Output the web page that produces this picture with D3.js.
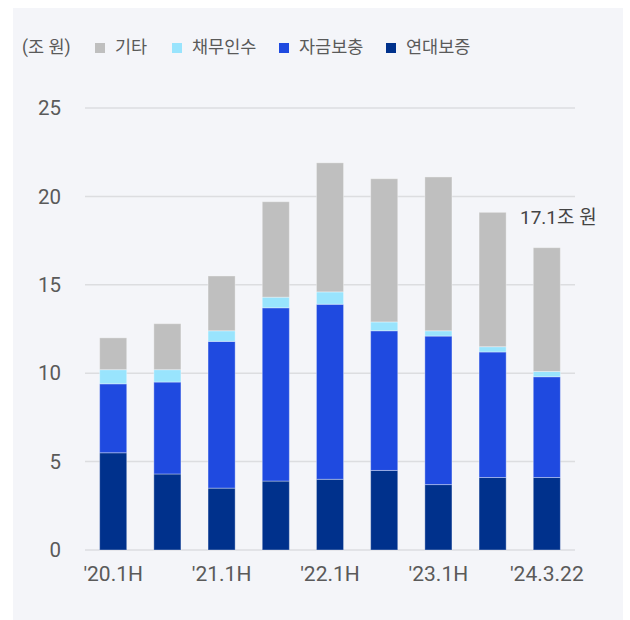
<!DOCTYPE html>
<html><head><meta charset="utf-8">
<script src="https://cdn.jsdelivr.net/npm/d3@7"></script>
<style>
html,body{margin:0;padding:0;background:#fff;}
text{font-family:Roboto,"Noto Sans CJK KR",sans-serif;}
</style></head>
<body><svg id="c" width="630" height="620"></svg>
<script>
const categories = ["'20.1H","'20.2H","'21.1H","'21.2H","'22.1H","'22.2H","'23.1H","'23.2H","'24.3.22"];
const shownLabels = ["'20.1H","'21.1H","'22.1H","'23.1H","'24.3.22"];
const seriesNames = ["연대보증","자금보충","채무인수","기타"];
const joint   = [5.5,4.3,3.5,3.9,4.0,4.5,3.7,4.1,4.1];
const funding = [3.9,5.2,8.3,9.8,9.9,7.9,8.4,7.1,5.7];
const debt    = [0.8,0.7,0.6,0.6,0.7,0.5,0.3,0.3,0.3];
const other   = [1.8,2.6,3.1,5.4,7.3,8.1,8.7,7.6,7.0];
const yTicks = [0,5,10,15,20,25];
const colors = ["#00318c","#1f4ae0","#99e4fd","#bfbfbf"];
const legendOrder = [3,2,1,0];
const unitLabel = "(조 원)";
const lastLabel = "17.1조 원";

const svg = d3.select("#c");
svg.append("rect").attr("x",13).attr("y",8).attr("width",610).attr("height",620).attr("fill","#f4f5f9");

const x = d3.scaleBand().domain(categories).range([85,575]).paddingInner(0.5).paddingOuter(0.27);
const y = d3.scaleLinear().domain([0,25]).range([550,108]);

const table = categories.map((c,i)=>({cat:c, s0:joint[i], s1:funding[i], s2:debt[i], s3:other[i]}));
const stack = d3.stack().keys(["s0","s1","s2","s3"])(table);

// grid
svg.append("g").selectAll("line").data(yTicks).join("line")
  .attr("x1",85).attr("x2",575).attr("y1",d=>y(d)).attr("y2",d=>y(d))
  .attr("stroke","#dcdde0").attr("stroke-width",1.5);

// y labels
svg.append("g").selectAll("text").data(yTicks).join("text")
  .attr("x",61).attr("y",d=>y(d)).attr("dy","0.35em").attr("text-anchor","end")
  .attr("font-size",20.5).attr("fill","#5a5a5a").text(d=>d);

// bars
svg.append("g").selectAll("g").data(stack).join("g").attr("fill",(d,i)=>colors[i])
  .selectAll("rect").data(d=>d).join("rect")
  .attr("x",d=>x(d.data.cat)).attr("width",x.bandwidth())
  .attr("y",d=>y(d[1])).attr("height",d=>y(d[0])-y(d[1]))
  .attr("stroke","#ffffff").attr("stroke-opacity",0.35).attr("stroke-width",1);

// x labels
svg.append("g").selectAll("text").data(shownLabels).join("text")
  .attr("x",d=>x(d)+x.bandwidth()/2).attr("y",574).attr("dy","0.35em").attr("text-anchor","middle")
  .attr("font-size",21).attr("fill","#5a5a5a").text(d=>d);

// last label
svg.append("text").attr("x",520).attr("y",217).attr("dy","0.35em")
  .attr("font-size",19).attr("fill","#444").text(lastLabel);

// legend
svg.append("text").attr("x",22).attr("y",47).attr("dy","0.35em").attr("font-size",17.5).attr("fill","#5a5a5a").text(unitLabel);
const legX = [95,172,279,386];
legendOrder.forEach((si,k)=>{
  svg.append("rect").attr("x",legX[k]).attr("y",43).attr("width",10).attr("height",10).attr("fill",colors[si]);
  svg.append("text").attr("x",legX[k]+20).attr("y",47).attr("dy","0.35em").attr("font-size",17.5).attr("fill","#5a5a5a").text(seriesNames[si]);
});
</script></body></html>
